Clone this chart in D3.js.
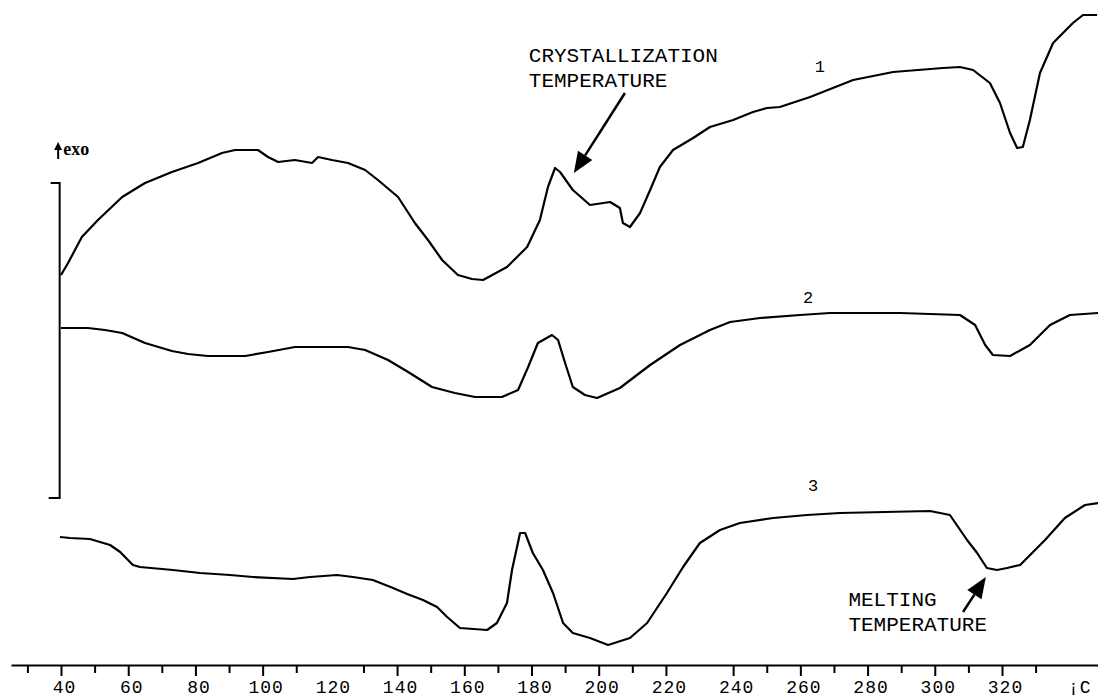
<!DOCTYPE html>
<html>
<head>
<meta charset="utf-8">
<script src="https://cdn.jsdelivr.net/npm/d3@7"></script>
<style>
  html, body { margin: 0; padding: 0; background: #fff; }
  svg { display: block; }
</style>
</head>
<body>
<svg id="chart" width="1098" height="698"></svg>
<script>
// ---------------- DATA (temperature in °C, heat flow in arbitrary units) ----------------
const curve1T = [40, 42.1, 46.2, 51.0, 58.2, 65.0, 73.0, 80.8, 87.9, 91.8, 98.6, 101.6, 104.6, 109.6, 114.7, 116.5, 120.6, 125.4, 130.5, 134.3, 140.3, 145.3, 149.2, 153.4, 158.1, 162.3, 165.6, 172.7, 178.7, 182.5, 184.9, 187.0, 188.5, 192.3, 197.4, 203.4, 206.3, 207.2, 209.3, 212.3, 215.3, 218.2, 222.1, 228.1, 233.1, 240.0, 245.9, 250.1, 253.9, 262.9, 275.7, 287.6, 302.4, 307.5, 311.4, 316.4, 319.4, 322.4, 324.5, 326.2, 328.3, 331.3, 335.2, 341.1, 344.1, 348.3];
const curve1V = [39.0, 40.2, 42.8, 44.5, 46.8, 48.2, 49.3, 50.2, 51.2, 51.5, 51.5, 50.8, 50.3, 50.5, 50.2, 50.8, 50.5, 50.2, 49.5, 48.5, 46.8, 44.2, 42.5, 40.5, 39.0, 38.6, 38.5, 39.8, 41.8, 44.5, 47.8, 49.7, 49.3, 47.5, 46.0, 46.3, 45.7, 44.2, 43.8, 45.2, 47.5, 49.8, 51.5, 52.7, 53.8, 54.5, 55.3, 55.7, 55.8, 56.8, 58.5, 59.3, 59.7, 59.8, 59.5, 58.2, 56.2, 53.2, 51.7, 51.8, 54.5, 59.2, 62.2, 64.2, 65.0, 65.0];

const curve2T = [40, 48.0, 53.1, 58.2, 65.0, 73.0, 77.8, 83.7, 94.8, 101.6, 109.6, 125.4, 130.5, 137.3, 143.3, 150.4, 157.2, 163.2, 171.2, 176.0, 179.0, 181.9, 186.1, 187.9, 190.0, 192.3, 195.9, 199.5, 206.3, 215.3, 224.2, 233.1, 239.1, 248.0, 259.9, 268.8, 289.6, 307.5, 312.0, 315.0, 317.3, 322.4, 328.3, 334.3, 340.2, 348.6];
const curve2V = [33.7, 33.7, 33.5, 33.2, 32.2, 31.4, 31.1, 30.9, 30.9, 31.3, 31.8, 31.8, 31.5, 30.5, 29.3, 27.8, 27.2, 26.8, 26.8, 27.5, 29.8, 32.2, 33.0, 32.5, 30.2, 27.8, 27.0, 26.7, 27.7, 30.0, 32.0, 33.5, 34.3, 34.7, 35.0, 35.2, 35.2, 35.0, 34.0, 32.0, 31.0, 30.9, 32.0, 34.0, 35.0, 35.2];

const curve3T = [39.7, 42.7, 48.6, 54.6, 57.6, 61.4, 63.5, 73.3, 81.4, 90.3, 97.1, 109.0, 114.1, 122.1, 126.9, 132.8, 138.8, 143.0, 147.7, 151.9, 154.9, 158.7, 166.8, 169.7, 172.7, 174.2, 176.6, 178.1, 180.4, 183.4, 186.4, 189.4, 192.3, 197.4, 202.8, 209.3, 214.4, 220.3, 225.1, 230.1, 236.1, 242.0, 251.9, 262.0, 271.8, 298.6, 304.5, 309.6, 312.6, 315.5, 318.5, 321.5, 325.4, 332.8, 338.7, 344.7, 348.6];
const curve3V = [12.8, 12.7, 12.6, 12.0, 11.3, 10.0, 9.8, 9.5, 9.2, 9.0, 8.8, 8.6, 8.8, 9.0, 8.8, 8.5, 7.7, 7.1, 6.5, 5.8, 4.8, 3.7, 3.5, 4.2, 6.2, 9.5, 13.2, 13.2, 11.2, 9.5, 7.2, 4.2, 3.2, 2.7, 2.0, 2.7, 4.2, 7.2, 9.8, 12.2, 13.5, 14.2, 14.7, 15.0, 15.2, 15.4, 15.0, 12.5, 11.2, 9.7, 9.5, 9.7, 10.0, 12.5, 14.7, 16.0, 16.2];

const curveNames = ["1", "2", "3"];
const curveLabelT = [265.8, 262.3, 263.8];
const curveLabelV = [59.3, 36.2, 17.4];

const tickValues = [30, 40, 50, 60, 70, 80, 90, 100, 110, 120, 130, 140, 150, 160, 170, 180, 190, 200, 210, 220, 230, 240, 250, 260, 270, 280, 290, 300, 310, 320, 330];
const hiddenTicks = [120, 230];
const unitLabel = "¡C";

const annoText = [["CRYSTALLIZATION", "TEMPERATURE"], ["MELTING", "TEMPERATURE"]];
const annoTextT = [179.2, 274.3];
const annoTextV = [60.3, 5.9];
const annoTipT = [192.6, 315.2];
const annoTipV = [49.2, 8.8];
const annoTailT = [207.8, 308.4];
const annoTailV = [57.2, 5.3];

const scaleBarV = [48.2, 16.7];

// ---------------- SCALES ----------------
const svg = d3.select("#chart");
const xBase = d3.scaleLinear().domain([40, 320]).range([61, 1002]);
const x = xBase.copy().domain([xBase.invert(11), xBase.invert(1098)]).range([11, 1098]);
const y = d3.scaleLinear().domain([0, 65]).range([665, 15]);
const mono = "'Liberation Mono', 'Courier New', monospace";

// ---------------- AXIS ----------------
const axisG = svg.append("g").attr("transform", `translate(0,${y(0)})`)
  .call(d3.axisBottom(x).tickValues(tickValues).tickSizeOuter(0)
        .tickFormat(d => d % 20 === 0 ? d : ""));
axisG.select(".domain").attr("stroke", "#000").attr("stroke-width", 2);
axisG.selectAll(".tick line").attr("stroke", "#000").attr("stroke-width", 2)
  .attr("y2", d => d % 20 === 0 ? 11 : 8)
  .attr("opacity", d => hiddenTicks.includes(d) ? 0 : 1);
axisG.selectAll(".tick text")
  .attr("fill", "#000")
  .attr("font-family", mono)
  .attr("font-size", 18)
  .attr("y", 28).attr("dy", 0).attr("dx", 3)
  .attr("letter-spacing", 1);
svg.append("text").attr("x", 1068).attr("y", y(0) + 28)
  .attr("font-family", mono).attr("font-size", 18).attr("letter-spacing", 1)
  .text(unitLabel);

// ---------------- CURVES ----------------
const line = d3.line().x(d => x(d[0])).y(d => y(d[1]));
const curves = [[curve1T, curve1V], [curve2T, curve2V], [curve3T, curve3V]];
curves.forEach(([T, V]) => {
  svg.append("path")
    .datum(T.map((t, i) => [t, V[i]]))
    .attr("d", line)
    .attr("fill", "none")
    .attr("stroke", "#000")
    .attr("stroke-width", 2.2)
    .attr("stroke-linejoin", "round");
});
curveNames.forEach((n, i) => {
  svg.append("text")
    .attr("x", x(curveLabelT[i])).attr("y", y(curveLabelV[i]))
    .attr("font-family", mono).attr("font-size", 17).attr("text-anchor", "middle")
    .text(n);
});

// ---------------- SCALE BAR + EXO ----------------
const barX = x(39.6);
svg.append("path")
  .attr("d", `M${barX - 9},${y(scaleBarV[0])}H${barX}V${y(scaleBarV[1])}H${barX - 11}`)
  .attr("fill", "none").attr("stroke", "#000").attr("stroke-width", 2);
const exoX = barX - 1.5;
const exoBase = y(scaleBarV[0]) - 28;
svg.append("line").attr("x1", exoX).attr("x2", exoX).attr("y1", exoBase + 4).attr("y2", exoBase - 8)
  .attr("stroke", "#000").attr("stroke-width", 2);
svg.append("path")
  .attr("d", `M${exoX},${exoBase - 13}L${exoX - 4},${exoBase - 5}L${exoX + 4},${exoBase - 5}Z`)
  .attr("fill", "#000");
svg.append("text").attr("x", exoX + 5).attr("y", exoBase)
  .attr("font-family", "'Liberation Serif', 'Times New Roman', serif")
  .attr("font-weight", "bold").attr("font-size", 18).text("exo");

// ---------------- ANNOTATIONS ----------------
annoText.forEach((lines, i) => {
  const tx = x(annoTextT[i]), ty = y(annoTextV[i]);
  lines.forEach((s, j) => {
    svg.append("text").attr("x", tx).attr("y", ty + j * 25)
      .attr("font-family", mono).attr("font-size", 21).attr("fill", "#000")
      .text(s);
  });
  const x1 = x(annoTailT[i]), y1 = y(annoTailV[i]);
  const x2 = x(annoTipT[i]), y2 = y(annoTipV[i]);
  const ang = Math.atan2(y2 - y1, x2 - x1);
  const hl = 21, hw = 8.5;
  const bx = x2 - hl * Math.cos(ang), by = y2 - hl * Math.sin(ang);
  svg.append("line").attr("x1", x1).attr("y1", y1).attr("x2", bx).attr("y2", by)
    .attr("stroke", "#000").attr("stroke-width", 2.5);
  const px = -Math.sin(ang) * hw, py = Math.cos(ang) * hw;
  svg.append("path")
    .attr("d", `M${x2},${y2}L${bx + px},${by + py}L${bx - px},${by - py}Z`)
    .attr("fill", "#000");
});
</script>
</body>
</html>
